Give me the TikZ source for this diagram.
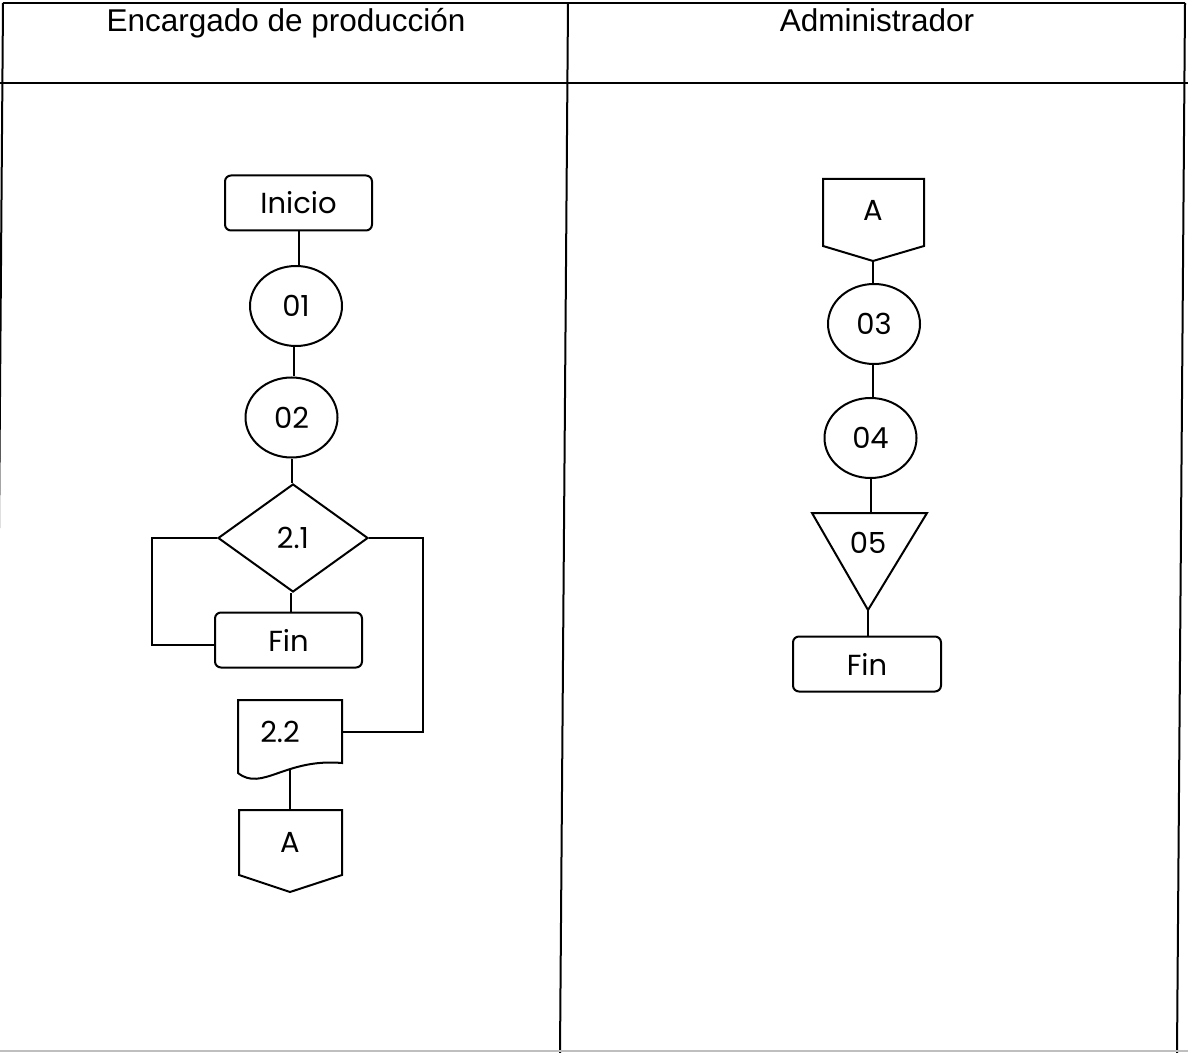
\documentclass[tikz,border=0pt]{standalone}
\usepackage{fontspec}
\setmainfont{Liberation Sans}
\newfontfamily\gothicfam{Poppins}
\usetikzlibrary{shapes.geometric}
\newcommand\gothic{\gothicfam\fontsize{14.5}{16}\selectfont}
\begin{document}
\begin{tikzpicture}[x=0.5pt,y=-0.5pt,line width=1pt,
    hdr/.style={font=\fontsize{15.75}{18}\selectfont,anchor=base},
    term/.style={draw,rounded corners=3pt,minimum width=73.5pt,minimum height=27.5pt,inner sep=0pt,font=\gothic},
    op/.style={draw,ellipse,minimum width=46pt,minimum height=40pt,inner sep=0pt,font=\gothic},
    dec/.style={draw,diamond,aspect=1.39,minimum width=75pt,minimum height=54pt,inner sep=0pt,font=\gothic},
    txt/.style={inner sep=0pt,font=\gothic}]
\useasboundingbox (0,0) rectangle (1188,1053);
% table
\draw (3,3)--(1185,3);
\draw (0,83)--(1188,83);
\draw (3,3)--(-5,1053);
\draw (1185,3)--(1177,1053);
\draw (568,3)--(560,1053);
\draw[gray!50, line width=.6pt] (0,1051)--(1188,1051);
\node[hdr] (hEnc) at (286,32) {Encargado de producción};
\node[hdr] (hAdm) at (877,32) {Administrador};

% encargado
\node[term] (ini) at (298.5,203) {Inicio};
\node[op] (e01) at (296,306) {01};
\node[op] (e02) at (291.5,417.5) {02};
\node[dec] (d21) at (293,538) {2.1};
\node[term] (fin1) at (288.5,640) {Fin};
\node[txt] (d22) at (280,732) {2.2};
\draw ([shift={(-42,-32)}]d22.center)--([shift={(62,-32)}]d22.center)--([shift={(62,31)}]d22.center)
    .. controls ([shift={(5,26)}]d22.center) and ([shift={(-18,60)}]d22.center) .. ([shift={(-42,41)}]d22.center)--cycle;
\coordinate (d22r) at ([shift={(62,0)}]d22.center);
\coordinate (d22b) at ([shift={(10,38)}]d22.center);
\node[txt] (aL) at (290,842) {A};
\draw ([shift={(-51,-32)}]aL.center)--([shift={(52,-32)}]aL.center)--([shift={(52,33)}]aL.center)
    --([shift={(0,50)}]aL.center)--([shift={(-51,33)}]aL.center)--cycle;
\coordinate (aLt) at ([shift={(0,-32)}]aL.center);

\draw (ini.south)--(ini.south|-e01.north);
\draw ([xshift=-1pt]e01.south)--([xshift=-1pt]e01.south|-e02.north);
\draw (e02.south)--(e02.south|-d21.north);
\draw ([xshift=-1pt]d21.south)--([xshift=-1pt]d21.south|-fin1.north);
\draw (d21.west)--++(-65,0)|-([yshift=-2.5pt]fin1.west);
\draw (d21.east)--++(54,0)|-(d22r);
\draw (d22b)--(aLt);

% administrador
\node[txt] (aR) at (873,210) {A};
\draw ([shift={(-50,-31)}]aR.center)--([shift={(51,-31)}]aR.center)--([shift={(51,36)}]aR.center)
    --([shift={(0,51)}]aR.center)--([shift={(-50,36)}]aR.center)--cycle;
\coordinate (aRb) at ([shift={(0,51)}]aR.center);
\node[op] (e03) at (874,324) {03};
\node[op] (e04) at (870.5,438) {04};
\node[txt] (t05) at (868,543) {05};
\draw ([shift={(-56,-30)}]t05.center)--([shift={(59,-30)}]t05.center)--([shift={(0,67)}]t05.center)--cycle;
\coordinate (t05t) at ([shift={(2,-30)}]t05.center);
\coordinate (t05b) at ([shift={(0,67)}]t05.center);
\node[term,minimum width=74pt] (fin2) at (867,664) {Fin};

\draw (aRb)--(aRb|-e03.north);
\draw ([xshift=-.5pt]e03.south)--([xshift=-.5pt]e03.south|-e04.north);
\draw (e04.south)--(e04.south|-t05t);
\draw (t05b)--(t05b|-fin2.north);
\end{tikzpicture}
\end{document}
